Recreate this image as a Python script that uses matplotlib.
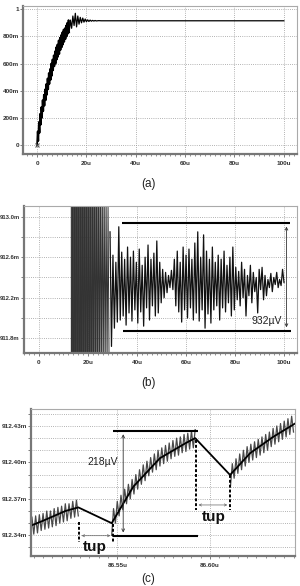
import numpy as np
import matplotlib.pyplot as plt
from matplotlib.ticker import MultipleLocator

plt.rcParams['font.family'] = ['Liberation Sans', 'DejaVu Sans']

# ---------------- data ----------------
# (a) output voltage, V vs time in us
rise_v = [0.00, 0.10, 0.03, 0.17, 0.09, 0.23, 0.15, 0.28, 0.20, 0.33, 0.25, 0.37, 0.29,
          0.41, 0.33, 0.45, 0.37, 0.49, 0.41, 0.53, 0.45, 0.56, 0.48, 0.60, 0.51, 0.63,
          0.55, 0.66, 0.58, 0.69, 0.60, 0.72, 0.63, 0.74, 0.65, 0.77, 0.67, 0.79, 0.70,
          0.81, 0.72, 0.83, 0.74, 0.85, 0.76, 0.86, 0.78, 0.88, 0.80, 0.90, 0.82, 0.92, 0.83]
ring_t = [13.5, 14, 14.5, 15, 15.5, 16, 16.5, 17, 17.5, 18, 18.5, 19, 19.5, 20, 20.5,
          21, 21.5, 22, 22.5, 23, 23.5, 24, 25, 26, 100]
ring_v = [0.92, 0.86, 0.95, 0.88, 0.97, 0.87, 0.95, 0.89, 0.94, 0.90, 0.935, 0.905, 0.928,
          0.908, 0.922, 0.91, 0.92, 0.912, 0.918, 0.913, 0.917, 0.914, 0.916, 0.915, 0.915]

# (b) same signal zoomed, mV
burst_v = [930, 895, 928, 897, 926, 899, 925, 900, 924, 901, 922, 903, 921, 904, 920, 905,
           919, 906, 918, 907, 917, 908, 916, 909, 915.5, 909.5, 915, 910, 914.5, 910.5,
           914, 911, 913.6, 911.2, 913.4, 911.4, 913.2, 911.5, 913.1, 911.6]
ripple_v = [912.85, 911.72, 912.62, 911.90, 912.55, 911.96, 912.90, 911.98, 912.65, 912.02,
            912.58, 911.93, 912.70, 912.05, 912.60, 911.97, 912.66, 912.08, 912.55, 911.95,
            912.68, 912.06, 912.52, 911.92, 912.60, 912.10, 912.72, 911.98, 912.58, 912.12,
            912.64, 912.02, 912.76, 912.05, 912.55, 912.15, 912.48, 912.20, 912.45, 912.25,
            912.42, 912.30, 912.47, 912.28, 912.58, 912.12, 912.66, 912.06, 912.55, 911.96,
            912.70, 912.08, 912.62, 912.00, 912.68, 912.10, 912.58, 911.98, 912.74, 912.05,
            912.85, 911.97, 912.60, 912.08, 912.82, 911.90, 912.66, 912.04, 912.58, 911.95,
            912.70, 912.08, 912.55, 912.12, 912.62, 911.98, 912.58, 912.10, 912.66, 912.06,
            912.52, 912.15, 912.60, 912.02, 912.70, 912.08, 912.50, 912.18, 912.46, 912.12,
            912.55, 912.20, 912.48, 912.02, 912.42, 912.22, 912.52, 912.15, 912.45, 912.26,
            912.40, 912.05, 912.48, 912.28, 912.50, 912.18, 912.42, 912.22, 912.38, 912.30,
            912.44, 912.26, 912.40, 912.33, 912.45, 912.30, 912.38, 912.32, 912.48, 912.35]

# (c) detail around 86.5-86.65 us, mV
seg1_v = [912.355, 912.341, 912.356, 912.342, 912.357, 912.344, 912.358, 912.345, 912.360,
          912.346, 912.360, 912.347, 912.362, 912.348, 912.363, 912.350, 912.364, 912.351,
          912.366, 912.352, 912.366, 912.354, 912.368, 912.355, 912.369, 912.356]
seg2_v = [912.340, 912.362, 912.350, 912.368, 912.356, 912.373, 912.361, 912.378, 912.366,
          912.382, 912.370, 912.386, 912.374, 912.390, 912.378, 912.394, 912.382, 912.398,
          912.385, 912.401, 912.389, 912.404, 912.392, 912.407, 912.394, 912.410, 912.397,
          912.412, 912.399, 912.414, 912.401, 912.416, 912.403, 912.418, 912.405, 912.420,
          912.406, 912.421, 912.408, 912.423, 912.409, 912.424, 912.411, 912.426, 912.412,
          912.427]
seg3_v = [912.380, 912.399, 912.387, 912.403, 912.391, 912.407, 912.394, 912.410, 912.397,
          912.413, 912.400, 912.415, 912.402, 912.417, 912.404, 912.419, 912.406, 912.421,
          912.408, 912.423, 912.410, 912.425, 912.413, 912.428, 912.415, 912.430, 912.417,
          912.432, 912.419, 912.434, 912.421, 912.436, 912.423, 912.438, 912.425]
mean_t = [86.5035, 86.510, 86.516, 86.522, 86.529, 86.547, 86.5586, 86.573, 86.587, 86.592,
          86.6108, 86.6216, 86.634, 86.6458]
mean_v = [912.348, 912.352, 912.356, 912.360, 912.363, 912.350, 912.380, 912.4035, 912.416,
          912.420, 912.3897, 912.4076, 912.421, 912.432]

GRID = dict(color='#9a9a9a', lw=0.6, ls=(0, (1, 1.6)))


def style(ax, ysize=4.6):
    ax.grid(True, **GRID)
    for s in ['left', 'bottom']:
        ax.spines[s].set_color('#777777')
        ax.spines[s].set_linewidth(1.6)
    for s in ['top', 'right']:
        ax.spines[s].set_color('#aaaaaa')
        ax.spines[s].set_linewidth(0.8)
    ax.tick_params(which='major', length=2, width=0.6, color='#666666',
                   labelcolor='#333333')
    ax.tick_params(axis='x', which='major', pad=3, labelsize=4.6)
    ax.tick_params(axis='y', which='major', pad=1, labelsize=ysize)
    ax.tick_params(which='minor', length=1.5, width=0.5, color='#666666')
    for lab in ax.get_xticklabels() + ax.get_yticklabels():
        lab.set_fontweight('bold')


fig = plt.figure(figsize=(3.0, 5.86), dpi=100)

# ---------------- (a) ----------------
ax1 = fig.add_axes([0.0767, 0.7372, 0.913, 0.2526])
ax1.plot(np.linspace(0, 13, len(rise_v)), rise_v, color='black', lw=1.3)
ax1.plot([13] + ring_t, [rise_v[-1]] + ring_v, color='black', lw=0.9)
ax1.plot([0], [0], marker='x', ms=3, color='#555555', mew=0.8)
ax1.set_xlim(-5.7, 105.3)
ax1.set_ylim(-0.066, 1.024)
ax1.set_xticks([0, 20, 40, 60, 80, 100])
ax1.set_xticklabels(['0', '20u', '40u', '60u', '80u', '100u'])
ax1.set_yticks([0, 0.2, 0.4, 0.6, 0.8, 1.0])
ax1.set_yticklabels(['0', '200m', '400m', '600m', '800m', '1'])
ax1.xaxis.set_minor_locator(MultipleLocator(2))
style(ax1)
fig.text(0.495, 0.686, '(a)', ha='center', va='center', fontsize=8.5, color='#222222')

# ---------------- (b) ----------------
ax2 = fig.add_axes([0.08, 0.3976, 0.91, 0.2509])
ax2.plot(np.linspace(13, 28.6, len(burst_v)), burst_v, color='#333333', lw=0.7)
ax2.plot(np.linspace(29, 100, len(ripple_v)), ripple_v, color='#111111', lw=0.9)
ax2.plot([33.7, 102.4], [912.94, 912.94], color='black', lw=1.5, solid_capstyle='butt')
ax2.plot([34.3, 102.9], [911.87, 911.87], color='black', lw=1.5, solid_capstyle='butt')
ax2.annotate('', xy=(101, 912.93), xytext=(101, 911.88),
             arrowprops=dict(arrowstyle='<->', lw=0.6, color='#333333', mutation_scale=5))
ax2.text(99.2, 911.97, '932\u00b5V', ha='right', va='center', fontsize=7.5, color='#222222')
ax2.set_xlim(-6.1, 105.3)
ax2.set_ylim(911.655, 913.105)
ax2.set_xticks([0, 20, 40, 60, 80, 100])
ax2.set_xticklabels(['0', '20u', '40u', '60u', '80u', '100u'])
ax2.set_yticks([911.8, 912.0, 912.2, 912.4, 912.6, 912.8, 913.0])
ax2.set_yticklabels(['911.8m', '', '912.2m', '', '912.6m', '', '913.0m'])
ax2.xaxis.set_minor_locator(MultipleLocator(2))
style(ax2, ysize=4.2)
fig.text(0.495, 0.346, '(b)', ha='center', va='center', fontsize=8.5, color='#222222')

# ---------------- (c) ----------------
ax3 = fig.add_axes([0.1033, 0.0512, 0.88, 0.2509])
for t0, t1, vals in [(86.504, 86.529, seg1_v), (86.547, 86.592, seg2_v), (86.611, 86.645, seg3_v)]:
    ax3.plot(np.linspace(t0, t1, len(vals)), vals, color='#4a4a4a', lw=0.9)
ax3.plot(mean_t, mean_v, color='black', lw=1.3)
# 218uV marker
ax3.plot([86.5478, 86.5937], [912.4262, 912.4262], color='black', lw=1.5, solid_capstyle='butt')
ax3.plot([86.5478, 86.5937], [912.3394, 912.3394], color='black', lw=1.5, solid_capstyle='butt')
ax3.annotate('', xy=(86.5532, 912.4255), xytext=(86.5532, 912.3400),
             arrowprops=dict(arrowstyle='<->', lw=0.6, color='#333333', mutation_scale=5))
ax3.text(86.5505, 912.400, '218\u00b5V', ha='right', va='center', fontsize=7.5, color='#222222')
# tup markers
dash = dict(color='black', lw=1.4, ls=(0, (1.5, 1)))
ax3.plot([86.5293, 86.5293], [912.351, 912.3347], **dash)
ax3.plot([86.5478, 86.5478], [912.349, 912.3347], **dash)
ax3.plot([86.5923, 86.5923], [912.4186, 912.3609], **dash)
ax3.plot([86.6108, 86.6108], [912.3897, 912.3609], **dash)
ax3.annotate('', xy=(86.5478, 912.3397), xytext=(86.5293, 912.3397),
             arrowprops=dict(arrowstyle='<->', lw=0.5, color='#666666', mutation_scale=4))
ax3.annotate('', xy=(86.6108, 912.365), xytext=(86.5923, 912.365),
             arrowprops=dict(arrowstyle='<->', lw=0.5, color='#666666', mutation_scale=4))
ax3.text(86.538, 912.3306, 'tup', ha='center', va='center', fontsize=11, fontweight='bold',
         color='#111111')
ax3.text(86.6018, 912.3553, 'tup', ha='center', va='center', fontsize=11, fontweight='bold',
         color='#111111')
ax3.set_xlim(86.5035, 86.6458)
ax3.set_ylim(912.323, 912.444)
ax3.set_xticks([86.55, 86.60])
ax3.set_xticklabels(['86.55u', '86.60u'])
ax3.set_yticks([912.33, 912.34, 912.35, 912.36, 912.37, 912.38, 912.39, 912.40, 912.41,
                912.42, 912.43, 912.44])
ax3.set_yticklabels(['', '912.34m', '', '', '912.37m', '', '', '912.40m', '', '', '912.43m', ''])
ax3.xaxis.set_minor_locator(MultipleLocator(0.005))
style(ax3)
fig.text(0.495, 0.001, '(c)', ha='center', va='bottom', fontsize=8.5, color='#222222')

fig.savefig('out.png', dpi=100)
